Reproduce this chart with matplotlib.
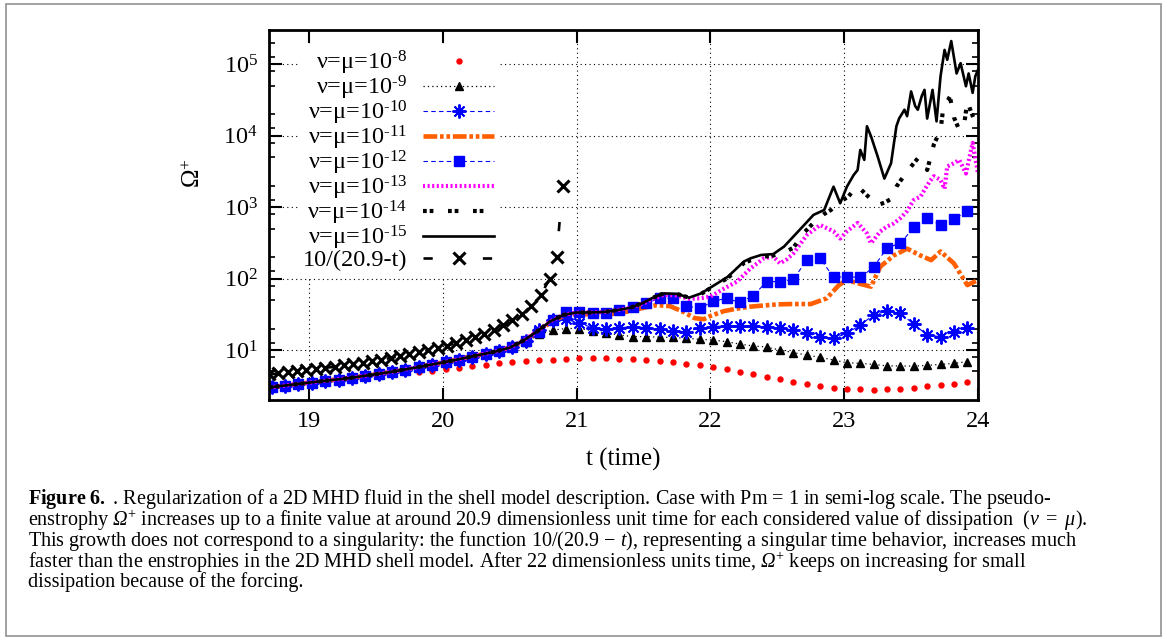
import numpy as np
import matplotlib
matplotlib.use("Agg")
from matplotlib import pyplot as plt
from matplotlib.patches import Rectangle
from matplotlib.ticker import FixedLocator, NullFormatter, LogFormatterMathtext

plt.rcParams["font.family"] = ["Liberation Serif", "DejaVu Serif"]
plt.rcParams["mathtext.fontset"] = "custom"
plt.rcParams["mathtext.rm"] = "Liberation Serif"
plt.rcParams["mathtext.it"] = "Liberation Serif:italic"
plt.rcParams["mathtext.bf"] = "Liberation Serif:bold"
# \mathsf is used for the italic capital Omega of the caption
plt.rcParams["mathtext.sf"] = "Liberation Serif:italic"

# runs shown with symbols, one point every 0.1 time unit
t_pts = np.round(np.arange(18.72, 23.93, 0.1), 2)

om_1e8 = [3.0, 3.15, 3.3, 3.45, 3.6, 3.8, 3.95, 4.15, 4.35, 4.55, 4.75, 4.95, 5.15, 5.4,
          5.65, 5.95, 6.25, 6.5, 6.8, 7.0, 7.2, 7.35, 7.55, 7.65, 7.7, 7.65, 7.6, 7.5,
          7.35, 7.1, 6.8, 6.45, 6.15, 5.75, 5.4, 5.0, 4.6, 4.25, 3.9, 3.6, 3.35, 3.15,
          2.97, 2.88, 2.83, 2.8, 2.82, 2.85, 2.94, 3.1, 3.22, 3.4, 3.6]

# all runs sit on the same curve up to t ~ 20.5
om_early = [3.0, 3.15, 3.3, 3.5, 3.65, 3.85, 4.05, 4.3, 4.55, 4.9, 5.25, 5.7, 6.2, 6.7,
            7.3, 8.0, 8.8, 9.6, 10.9]

om_1e9 = om_early + [13, 16.5, 19, 20, 20, 18.6, 17.4, 16.2, 15.4, 15.4, 15.1, 15, 14.6,
                     14.1, 13.8, 13.1, 12.1, 11.4, 11, 10, 9.2, 8.5, 7.9, 7.25, 6.65, 6.5,
                     6.3, 6.0, 6.0, 5.95, 6.1, 6.3, 6.5, 6.9]

om_1e10 = om_early + [13.5, 19, 26, 27, 23.6, 20.5, 19.5, 20.5, 21.3, 20.5, 19.5, 18.6, 18,
                      20.5, 21.3, 21.8, 21.8, 21.8, 21.3, 20.3, 19, 17.1, 15.4, 14.6, 17.1,
                      22.4, 31, 35, 32.7, 23, 16.2, 15.4, 18, 20.5]

om_1e12 = om_early + [13.5, 18, 26, 33.6, 34.5, 33, 33, 36.4, 39.6, 45, 53, 53, 41.5, 38.3,
                      48, 53, 46.3, 57.6, 90.6, 90.6, 97.6, 182, 192, 104, 106, 104, 144,
                      270, 311, 520, 694, 562, 672, 890]

# runs shown as lines
t_1e11 = [18.7, 19.0, 19.3, 19.6, 19.8, 20.0, 20.2, 20.4, 20.5, 20.6, 20.7, 20.8, 20.9,
          21.0, 21.1, 21.2, 21.3, 21.4, 21.5, 21.6, 21.7, 21.8, 21.88, 21.95, 22.0, 22.1,
          22.2, 22.3, 22.4, 22.5, 22.6, 22.75, 22.87, 22.96, 23.02, 23.1, 23.2, 23.27,
          23.37, 23.47, 23.57, 23.65, 23.72, 23.82, 23.92, 24.0]
om_1e11 = [3.0, 3.5, 4.05, 4.9, 5.7, 6.7, 8.0, 9.6, 10.8, 13.2, 17.5, 24, 30, 32, 31.5, 31,
           32.5, 35, 39, 42.5, 41, 34, 28, 27, 30, 35, 38, 40.5, 42, 43.5, 44, 44, 53, 81,
           95, 86, 77, 147, 210, 262, 210, 181, 239, 163, 81, 95]

t_1e13 = [18.7, 19.0, 19.3, 19.6, 19.8, 20.0, 20.2, 20.4, 20.5, 20.6, 20.7, 20.8, 20.9,
          21.0, 21.1, 21.2, 21.3, 21.4, 21.5, 21.57, 21.65, 21.75, 21.84, 21.93, 22.0,
          22.1, 22.2, 22.3, 22.4, 22.47, 22.52, 22.57, 22.62, 22.72, 22.82, 22.92, 22.97,
          23.02, 23.1, 23.17, 23.2, 23.27, 23.32, 23.37, 23.42, 23.47, 23.52, 23.57, 23.6,
          23.64, 23.67, 23.72, 23.75, 23.77, 23.82, 23.86, 23.91, 23.96, 24.0]
om_1e13 = [3.0, 3.5, 4.05, 4.9, 5.7, 6.7, 8.0, 9.6, 10.8, 13.5, 18, 25, 31, 33.5, 33.5, 34,
           36, 39, 45, 52, 59, 58, 52, 53, 56, 72, 91, 139, 192, 203, 163, 185, 225, 405,
           562, 457, 363, 457, 600, 427, 311, 457, 535, 590, 700, 880, 1260, 1400, 1740,
           2300, 2700, 2400, 1800, 3700, 4100, 4570, 2950, 7900, 2950]

t_1e14 = [18.7, 19.0, 19.3, 19.6, 19.8, 20.0, 20.2, 20.4, 20.5, 20.6, 20.7, 20.8, 20.9,
          21.0, 21.1, 21.2, 21.3, 21.4, 21.5, 21.57, 21.65, 21.75, 21.84, 21.93, 22.03,
          22.13, 22.25, 22.3, 22.38, 22.47, 22.55, 22.62, 22.7, 22.77, 22.85, 22.9, 22.97,
          23.03, 23.09, 23.12, 23.18, 23.25, 23.3, 23.35, 23.39, 23.45, 23.5, 23.55, 23.6,
          23.62, 23.67, 23.72, 23.74, 23.79, 23.82, 23.86, 23.9, 23.92, 23.95, 23.97, 24.0]
om_1e14 = [3.0, 3.5, 4.05, 4.9, 5.7, 6.7, 8.0, 9.6, 10.8, 13.5, 18, 25, 31, 33.5, 33.5, 34,
           36, 39, 46, 54, 62, 61, 54, 61, 79, 102, 165, 180, 200, 210, 230, 270, 440, 600,
           800, 910, 1200, 1390, 1930, 1800, 1400, 1070, 1150, 1300, 1930, 2800, 3700,
           4800, 4200, 3300, 7500, 12000, 24000, 35000, 18000, 12000, 16000, 30000, 21000,
           17000, 23000]

t_1e15 = [18.7, 19.0, 19.3, 19.6, 19.8, 20.0, 20.2, 20.4, 20.5, 20.6, 20.7, 20.8, 20.9,
          21.0, 21.1, 21.2, 21.3, 21.4, 21.5, 21.57, 21.65, 21.75, 21.84, 21.93, 22.03,
          22.13, 22.25, 22.3, 22.38, 22.47, 22.55, 22.63, 22.7, 22.77, 22.85, 22.92, 22.97,
          23.02, 23.07, 23.1, 23.12, 23.15, 23.17, 23.2, 23.25, 23.3, 23.35, 23.39, 23.41,
          23.45, 23.47, 23.5, 23.53, 23.55, 23.58, 23.6, 23.62, 23.66, 23.69, 23.72, 23.75,
          23.77, 23.8, 23.84, 23.87, 23.91, 23.93, 23.96, 23.98, 24.0]
om_1e15 = [3.0, 3.5, 4.05, 4.9, 5.7, 6.7, 8.0, 9.6, 10.8, 13.5, 18, 25, 31, 33.5, 33.5, 34,
           36, 39, 46, 54, 62, 61, 54, 62, 81, 106, 173, 192, 214, 220, 280, 405, 560, 777,
           910, 1930, 1130, 1930, 2800, 3300, 6300, 4570, 13500, 9800, 5100, 2500, 4100,
           13500, 17300, 23000, 18700, 41500, 26000, 23000, 36000, 43600, 17300, 43600,
           15800, 67700, 158000, 115000, 210000, 74000, 103000, 49000, 74000, 39600, 67700,
           83000]

# reference curve 10/(20.9-t)
t_sing = [18.7, 18.77, 18.84, 18.91, 18.98, 19.05, 19.12, 19.19, 19.26, 19.33, 19.4, 19.47,
          19.54, 19.61, 19.68, 19.75, 19.82, 19.89, 19.96, 20.03, 20.1, 20.17, 20.24,
          20.31, 20.38, 20.45, 20.52, 20.59, 20.66, 20.73, 20.8, 20.85, 20.895]
om_sing = [4.55, 4.7, 4.85, 5.03, 5.21, 5.41, 5.62, 5.85, 6.1, 6.37, 6.67, 6.99, 7.35, 7.75,
           8.2, 8.7, 9.26, 9.9, 10.6, 11.5, 12.5, 13.7, 15.2, 17.0, 19.2, 22.2, 26.3, 32.3,
           41.7, 58.8, 100, 200, 2000]

labels = [r"ν=μ=10$^{\text{-%d}}$" % n for n in range(8, 16)] + ["10/(20.9-t)"]

caption = [
    r"$\mathbf{Figure\ 6.}$ . Regularization of a 2D MHD fluid in the shell model description. "
    r"Case with Pm = 1 in semi-log scale. The pseudo-",
    r"enstrophy $\mathsf{Ω}^{+}$ increases up to a finite value at around 20.9 dimensionless "
    r"unit time for each considered value of dissipation  $(\nu\ =\ \mu)$.",
    r"This growth does not correspond to a singularity: the function 10/(20.9 $-$ $t$), "
    r"representing a singular time behavior, increases much",
    r"faster than the enstrophies in the 2D MHD shell model. After 22 dimensionless units time, "
    r"$\mathsf{Ω}^{+}$ keeps on increasing for small",
    "dissipation because of the forcing.",
]
caption_widths = [1107, 1105, 1092, 1002]

W, H = 1168, 639
fig = plt.figure(figsize=(W / 100, H / 100), dpi=100)
ax = fig.add_axes([269 / W, 1 - 400 / H, (978 - 269) / W, (400 - 30) / H])

ax.plot(t_pts, om_1e8, ls="none", marker="o", ms=4.6, color="#ff0000", mec="none",
        label=labels[0])
ax.plot(t_pts, om_1e9, ls=(0, (1, 2.5)), lw=0.9, color="black", marker="^", ms=5.5,
        label=labels[1])
ax.plot(t_pts, om_1e10, ls=(0, (4, 3)), lw=0.8, color="#0000ff", marker=(8, 2, 0), ms=10,
        mew=1.4, label=labels[2])
ax.plot(t_1e11, om_1e11, ls=(0, (3, 0.6, 0.8, 0.6, 0.8, 0.6)), lw=3.3, color="#ff5f00",
        label=labels[3])
ax.plot(t_pts, om_1e12, ls=(0, (4, 3)), lw=0.8, color="#0000ff", marker="s", ms=6.5,
        label=labels[4])
ax.plot(t_1e13, om_1e13, ls=(0, (0.5, 0.6)), lw=3.0, color="#ff00ff", label=labels[5])
ax.plot(t_1e14, om_1e14, ls=(0, (0.9, 0.7, 0.9, 3.5)), lw=3.0, color="black",
        label=labels[6])
ax.plot(t_1e15, om_1e15, ls="-", lw=1.9, color="black", label=labels[7])
ax.plot(t_sing, om_sing, ls=(0, (3.5, 19)), lw=1.9, color="black", marker="x", ms=9,
        mew=2.2, label=labels[8])

ax.set_yscale("log")
ax.set_xlim(18.7, 24)
ax.set_ylim(2, 3e5)
ax.set_xticks([19, 20, 21, 22, 23, 24])
ax.set_yticks([10, 1e2, 1e3, 1e4, 1e5])
ax.yaxis.set_major_formatter(LogFormatterMathtext())
ax.yaxis.set_minor_locator(FixedLocator([10 ** (n + f) for n in range(0, 6)
                                         for f in (0.1, 0.3, 0.7, 0.9)]))
ax.yaxis.set_minor_formatter(NullFormatter())
ax.tick_params(which="both", direction="in", top=True, right=True)
ax.tick_params(which="major", length=9, width=1.5, labelsize=17.5, pad=8)
ax.tick_params(which="minor", length=4.5, width=1.2)
for s in ax.spines.values():
    s.set_linewidth(2)
ax.grid(True, which="major", ls=(0, (1, 3)), lw=0.8, color="black")
ax.set_axisbelow(True)

ax.set_xlabel("t (time)", fontsize=18)
ax.xaxis.set_label_coords(0.5, -0.13)
ax.set_ylabel("Ω$^{+}$", fontsize=18)
ax.yaxis.set_label_coords(-0.09, 0.613)

leg = ax.legend(loc="upper right", bbox_to_anchor=(0.324, 0.962), markerfirst=False,
                frameon=True, fancybox=False, edgecolor="none", facecolor="white",
                framealpha=1, fontsize=17.5, handlelength=2.9, handletextpad=0.65,
                labelspacing=-0.13, borderpad=0.2, borderaxespad=0)

# caption: measure each line once to pick one font size that keeps every line
# inside its width in the reference, then draw the whole paragraph as one text
renderer = fig.canvas.get_renderer()
fits = []
for line, w in zip(caption, caption_widths):
    tmp = fig.text(0, 0, line, fontsize=14)
    fits.append(14 * w / tmp.get_window_extent(renderer).width)
    tmp.remove()
cap_size = min(fits)
fig.text(28 / W, 1 - 487 / H, "\n".join(caption), fontsize=cap_size, ha="left", va="top",
         linespacing=0.81)

fig.add_artist(Rectangle((5.5 / W, 1 - 636 / H), (1161 - 5.5) / W, (636 - 3.5) / H,
                         transform=fig.transFigure, fill=False, edgecolor="#9a9a9a",
                         lw=1.3))

fig.savefig("out.png", dpi=100)
